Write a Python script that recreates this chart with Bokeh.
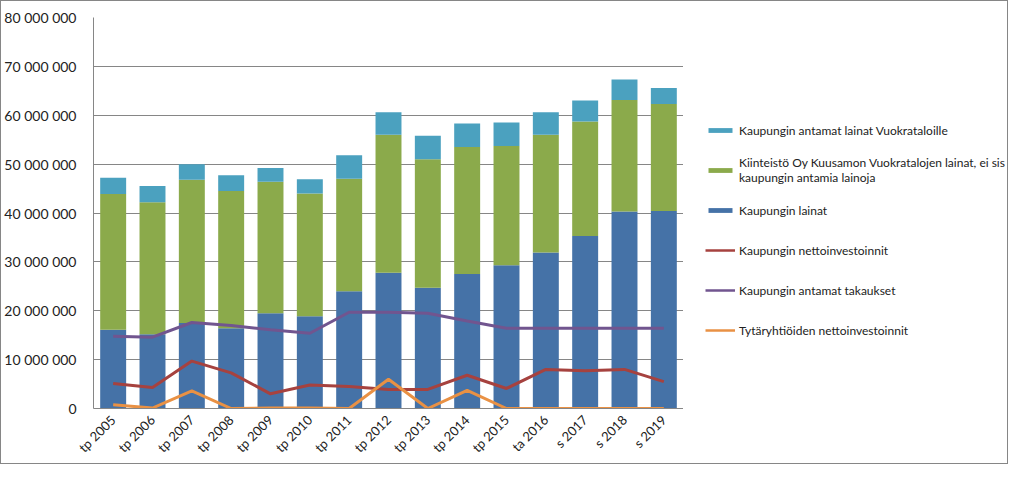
import math
from bokeh.plotting import figure
from bokeh.layouts import row
from bokeh.models import (ColumnDataSource, Legend, LegendItem, CustomJSTickFormatter,
                          FixedTicker, Range1d, FactorRange)
from bokeh.embed import file_html
from bokeh.resources import INLINE

categories = ["tp 2005", "tp 2006", "tp 2007", "tp 2008", "tp 2009", "tp 2010", "tp 2011",
              "tp 2012", "tp 2013", "tp 2014", "tp 2015", "ta 2016", "s 2017", "s 2018", "s 2019"]

kaupungin_lainat = [16100000, 15200000, 17500000, 16400000, 19500000, 18900000, 24000000,
                    27800000, 24700000, 27500000, 29300000, 31900000, 35300000, 40300000, 40400000]
vuokratalojen_lainat = [27800000, 27000000, 29300000, 28100000, 26900000, 25100000, 23000000,
                        28200000, 26300000, 26000000, 24400000, 24100000, 23400000, 22800000, 21900000]
lainat_vuokrataloille = [3300000, 3300000, 3200000, 3200000, 2800000, 2900000, 4800000,
                         4600000, 4800000, 4800000, 4800000, 4600000, 4300000, 4200000, 3300000]
nettoinvestoinnit = [5100000, 4300000, 9700000, 7300000, 3000000, 4800000, 4500000,
                     3900000, 3900000, 6800000, 4100000, 8000000, 7700000, 8000000, 5500000]
takaukset = [14800000, 14600000, 17600000, 17000000, 16100000, 15400000, 19700000,
             19700000, 19500000, 17900000, 16400000, 16400000, 16400000, 16400000, 16400000]
tytar_investoinnit = [750000, 100000, 3600000, 0, 100000, 100000, 0,
                      6000000, 0, 3700000, 0, 0, 0, 0, 0]

labels = [
    "Kaupungin antamat lainat Vuokrataloille",
    "Kiinteistö Oy Kuusamon Vuokratalojen lainat, ei sis\nkaupungin antamia lainoja",
    "Kaupungin lainat",
    "Kaupungin nettoinvestoinnit",
    "Kaupungin antamat takaukset",
    "Tytäryhtiöiden nettoinvestoinnit",
]

BLUE = "#4572A7"
GREEN = "#8BAA4B"
CYAN = "#4BA1BF"
RED = "#A6423F"
PURPLE = "#71558F"
ORANGE = "#E99144"
GRID = "#868686"
FONT = "Lato"
TEXT = "#222222"

src = ColumnDataSource(dict(cat=categories, a=kaupungin_lainat, b=vuokratalojen_lainat,
                            c=lainat_vuokrataloille, r=nettoinvestoinnit, t=takaukset,
                            o=tytar_investoinnit))


def draw(fig, lw):
    bars = fig.vbar_stack(["a", "b", "c"], x="cat", width=0.66, source=src,
                          color=[BLUE, GREEN, CYAN], line_color=None)
    lr = fig.line("cat", "r", source=src, line_color=RED, line_width=lw)
    lt = fig.line("cat", "t", source=src, line_color=PURPLE, line_width=lw)
    lo = fig.line("cat", "o", source=src, line_color=ORANGE, line_width=lw)
    return [bars[2], bars[1], bars[0], lr, lt, lo]


# main chart
p = figure(x_range=FactorRange(*categories, range_padding=0), y_range=Range1d(0, 80000000),
           width=682, height=462, min_border_left=92, min_border_right=0,
           min_border_top=16, min_border_bottom=52, output_backend="svg",
           toolbar_location=None, background_fill_color="white")
p.outline_line_color = None
draw(p, 3)

p.yaxis.ticker = FixedTicker(ticks=[0, 10000000, 20000000, 30000000, 40000000,
                                    50000000, 60000000, 70000000, 80000000])
p.yaxis.formatter = CustomJSTickFormatter(
    code="return tick.toFixed(0).replace(/\\B(?=(\\d{3})+(?!\\d))/g, ' ');")
for ax in (p.xaxis[0], p.yaxis[0]):
    ax.axis_line_color = GRID
    ax.major_tick_line_color = None
    ax.minor_tick_line_color = None
    ax.major_label_text_font = FONT
    ax.major_label_text_color = TEXT
p.yaxis.major_label_text_font_size = "14px"
p.xaxis.major_label_text_font_size = "13px"
p.yaxis.major_label_standoff = 11
p.xaxis.major_label_standoff = 3
p.xaxis.major_label_orientation = math.pi / 4

p.xgrid.grid_line_color = None
p.ygrid.grid_line_color = GRID
p.ygrid.grid_line_width = 1

# legend panel: the same series as hidden renderers, only their legend is shown
q = figure(width=324, height=462, min_border=0,
           x_range=FactorRange(*categories, range_padding=0), y_range=Range1d(0, 80000000),
           x_axis_location=None, y_axis_location=None, output_backend="svg",
           toolbar_location=None, background_fill_color="white")
q.outline_line_color = None
q.grid.visible = False
renderers = draw(q, 2.5)
for r in renderers:
    r.visible = False

items = [LegendItem(label=lab, renderers=[r]) for lab, r in zip(labels, renderers)]
legend = Legend(items=items, location=(22, 58), border_line_color=None,
                background_fill_alpha=0, padding=0, margin=0, spacing=0,
                glyph_width=30, glyph_height=6, label_standoff=4,
                label_text_font=FONT, label_text_font_size="12px",
                label_text_line_height=1.5, click_policy="none",
                label_text_color=TEXT, label_height=40)
q.add_layout(legend, "center")

layout = row(p, q, spacing=0)
layout.styles = {"border": "1px solid #868686"}

open("out.html", "w").write(file_html(layout, INLINE))
